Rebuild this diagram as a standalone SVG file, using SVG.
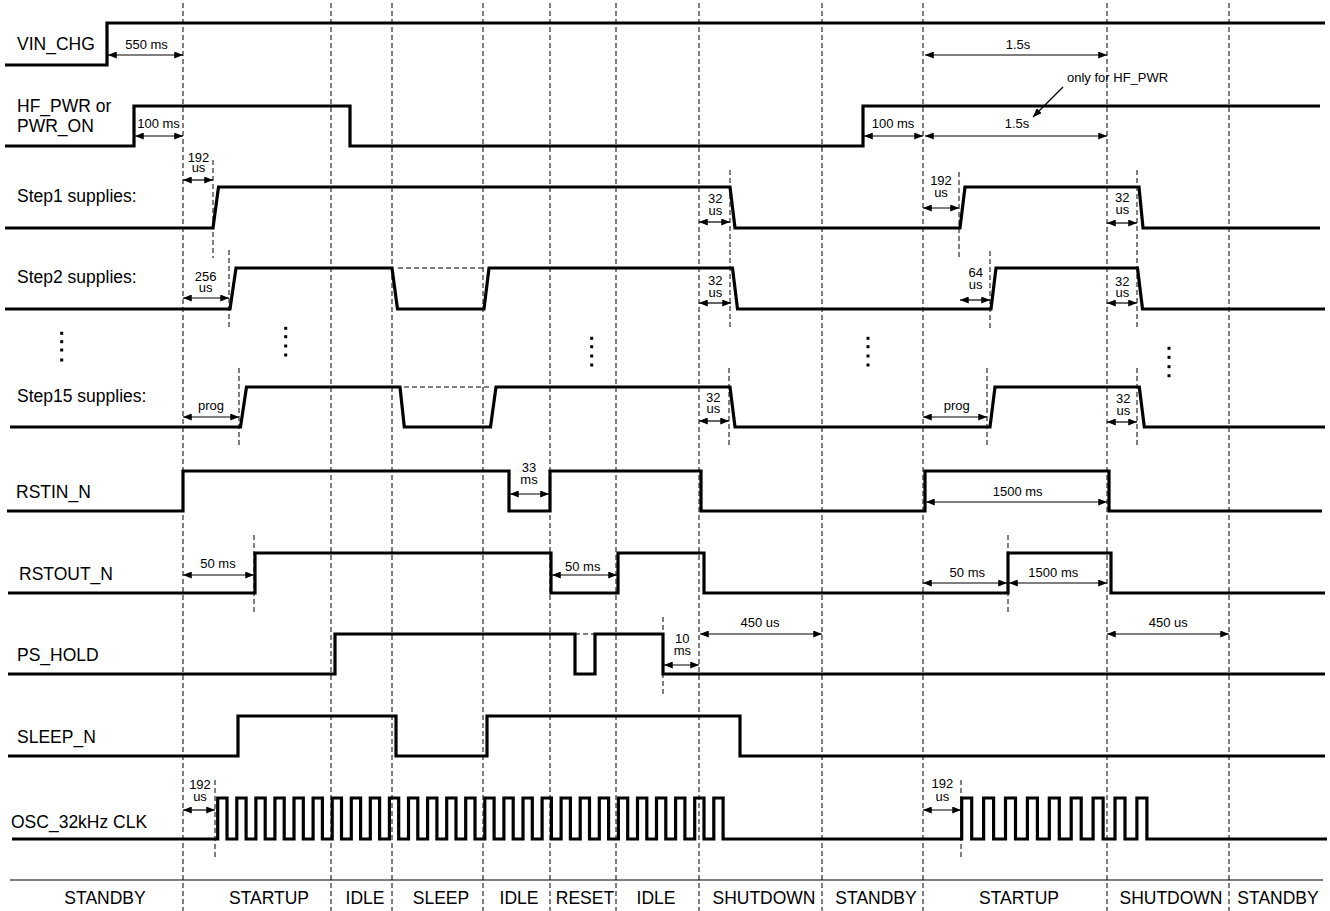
<svg xmlns="http://www.w3.org/2000/svg" width="1330" height="911" viewBox="0 0 1330 911">
<defs>
<marker id="ah" viewBox="0 0 10 8" refX="10" refY="4" markerWidth="10" markerHeight="7" markerUnits="userSpaceOnUse" orient="auto-start-reverse"><path d="M0,0 L10,4 L0,8 z" fill="#000"/></marker>
<style>
.sig{fill:none;stroke:#000;stroke-width:3.2;stroke-linejoin:miter;stroke-linecap:butt}
.grid{fill:none;stroke:#000;stroke-width:1;stroke-dasharray:5 3}
.lbl{font-family:"Liberation Sans",Arial,sans-serif;font-size:17.5px;fill:#000}
.ph{font-family:"Liberation Sans",Arial,sans-serif;font-size:17.5px;fill:#000;text-anchor:middle}
.ann{font-family:"Liberation Sans",Arial,sans-serif;font-size:13px;fill:#000;text-anchor:middle}
.dim{fill:none;stroke:#000;stroke-width:1.2;marker-start:url(#ah);marker-end:url(#ah)}
.dim1{fill:none;stroke:#000;stroke-width:1.2;marker-end:url(#ah)}
.dot{fill:#000}
</style>
</defs>
<rect width="1330" height="911" fill="#fff"/>

<g id="phase-grid">
<path class="grid" d="M183,3V911M331,3V911M392,3V911M483,3V911M550,3V911M616,3V911M699,3V911M822,3V911M923,3V911M1107,3V911M1229,3V911"/>
<path d="M10,880H1323" stroke="#000" stroke-width="1.2"/>
</g>

<g id="markers">
<path class="grid" d="M213,160V258M229,250V329M239,368V447M730,170V330M729,368V447M254,535V613M663,617V695M215,780V860M959,172V258M990,251V330M1137,170V330M987,368V447M1137,368V447M1008,535V613M961,780V860"/>
<path class="grid" d="M398,268H483M404,387H490M575,634H595"/>
</g>

<g id="VIN_CHG">
<text class="lbl" x="17" y="50">VIN_CHG</text>
<path class="sig" d="M5,65H107V23H1325"/>
</g>

<g id="HF_PWR">
<text class="lbl" x="17" y="112">HF_PWR or<tspan x="17" dy="20">PWR_ON</tspan></text>
<path class="sig" d="M5,146H134V106H350V146H863V106H1320"/>
</g>

<g id="Step1">
<text class="lbl" x="17" y="202">Step1 supplies:</text>
<path class="sig" d="M5,228H213L218.5,187H730L735,228H960L965,187H1139L1143,228H1320"/>
</g>

<g id="Step2">
<text class="lbl" x="17" y="283">Step2 supplies:</text>
<path class="sig" d="M5,309H230L236,268H392L397.5,309H484L489,268H732.5L737.5,309H991L996,268H1137.5L1142.5,309H1325"/>
</g>

<g id="dots">
<rect class="dot" x="60.2" y="331.8" width="3" height="3"/><rect class="dot" x="60.2" y="340.2" width="3" height="3"/><rect class="dot" x="60.2" y="348.5" width="3" height="3"/><rect class="dot" x="60.2" y="358.5" width="3" height="3"/>
<rect class="dot" x="284.2" y="326.8" width="3" height="3"/><rect class="dot" x="284.2" y="335.2" width="3" height="3"/><rect class="dot" x="284.2" y="344.5" width="3" height="3"/><rect class="dot" x="284.2" y="353.5" width="3" height="3"/>
<rect class="dot" x="590.2" y="336.8" width="3" height="3"/><rect class="dot" x="590.2" y="345.2" width="3" height="3"/><rect class="dot" x="590.2" y="354.5" width="3" height="3"/><rect class="dot" x="590.2" y="363.5" width="3" height="3"/>
<rect class="dot" x="866.5" y="336.8" width="3" height="3"/><rect class="dot" x="866.5" y="345.2" width="3" height="3"/><rect class="dot" x="866.5" y="354.5" width="3" height="3"/><rect class="dot" x="866.5" y="363.5" width="3" height="3"/>
<rect class="dot" x="1167.5" y="346.8" width="3" height="3"/><rect class="dot" x="1167.5" y="355.8" width="3" height="3"/><rect class="dot" x="1167.5" y="365.2" width="3" height="3"/><rect class="dot" x="1167.5" y="374.2" width="3" height="3"/>
</g>

<g id="Step15">
<text class="lbl" x="17" y="402">Step15 supplies:</text>
<path class="sig" d="M10,427H240.5L246.5,387H400L404.3,427H490.5L496,387H730L735,427H990L995,387H1139.3L1144.3,427H1325"/>
</g>

<g id="RSTIN_N">
<text class="lbl" x="16" y="498">RSTIN_N</text>
<path class="sig" d="M7,511H183V471H509V511H550V471H701V511H925V471H1109V511H1322"/>
</g>

<g id="RSTOUT_N">
<text class="lbl" x="19" y="580">RSTOUT_N</text>
<path class="sig" d="M8,593H255V553H551V593H618V553H704V593H1008V553H1111V593H1325"/>
</g>

<g id="PS_HOLD">
<text class="lbl" x="17" y="661">PS_HOLD</text>
<path class="sig" d="M8,674H335V634H575V674H595V634H663V674H1325"/>
</g>

<g id="SLEEP_N">
<text class="lbl" x="17" y="743">SLEEP_N</text>
<path class="sig" d="M8,756H238V716H396V756H487V716H740V756H1325"/>
</g>

<g id="OSC_32kHz_CLK">
<text class="lbl" x="11" y="828">OSC_32kHz CLK</text>
<path class="sig" d="M12,839H217.7V798h9.3V839H236.8V798h9.3V839H255.9V798h9.3V839H274.9V798h9.3V839H294.0V798h9.3V839H313.1V798h9.3V839H332.2V798h9.3V839H351.3V798h9.3V839H370.3V798h9.3V839H389.4V798h9.3V839H408.5V798h9.3V839H427.6V798h9.3V839H446.7V798h9.3V839H465.7V798h9.3V839H484.8V798h9.3V839H503.9V798h9.3V839H523.0V798h9.3V839H542.1V798h9.3V839H561.1V798h9.3V839H580.2V798h9.3V839H599.3V798h9.3V839H618.4V798h9.3V839H637.5V798h9.3V839H656.5V798h9.3V839H675.6V798h9.3V839H694.7V798h9.3V839H713.8V798h9.3V839H961.7V798h10V839H983.6V798h10V839H1005.5V798h10V839H1027.4V798h10V839H1049.3V798h10V839H1071.2V798h10V839H1093.1V798h10V839H1115.0V798h10V839H1136.9V798h10V839H1327"/>
</g>

<g id="phases">
<text class="ph" x="105" y="904">STANDBY</text>
<text class="ph" x="269" y="904">STARTUP</text>
<text class="ph" x="365" y="904">IDLE</text>
<text class="ph" x="441" y="904">SLEEP</text>
<text class="ph" x="519" y="904">IDLE</text>
<text class="ph" x="585" y="904">RESET</text>
<text class="ph" x="656" y="904">IDLE</text>
<text class="ph" x="764" y="904">SHUTDOWN</text>
<text class="ph" x="876" y="904">STANDBY</text>
<text class="ph" x="1019" y="904">STARTUP</text>
<text class="ph" x="1171" y="904">SHUTDOWN</text>
<text class="ph" x="1278" y="904">STANDBY</text>
</g>

<g id="connectors">
<path class="dim" d="M108,55H183"/>
<path class="dim" d="M135,136H183"/>
<path class="dim" d="M864,136H923"/>
<path class="dim" d="M925,55H1107"/>
<path class="dim" d="M925,136H1107"/>
<path class="dim1" d="M1063,87L1033,117"/>
<path class="dim" d="M183,180H213"/>
<path class="dim" d="M183,298H229"/>
<path class="dim" d="M699,222H730"/>
<path class="dim" d="M699,303H731"/>
<path class="dim" d="M699,421H729"/>
<path class="dim" d="M923,208H959"/>
<path class="dim" d="M960,300H990"/>
<path class="dim" d="M1107,223H1137"/>
<path class="dim" d="M1107,303H1137"/>
<path class="dim" d="M1107,422H1137"/>
<path class="dim" d="M183,417H239"/>
<path class="dim" d="M923,417H987"/>
<path class="dim" d="M510,494H549"/>
<path class="dim" d="M926,502H1107"/>
<path class="dim" d="M183,575H254"/>
<path class="dim" d="M552,575H617"/>
<path class="dim" d="M923,583H1007"/>
<path class="dim" d="M1009,583H1107"/>
<path class="dim" d="M664,665H699"/>
<path class="dim" d="M700,634H822"/>
<path class="dim" d="M1107,634H1229"/>
<path class="dim" d="M183,810H215"/>
<path class="dim" d="M923,810H961"/>
</g>

<g id="annotations">
<text class="ann" x="146.5" y="49">550 ms</text>
<text class="ann" x="158.5" y="128">100 ms</text>
<text class="ann" x="893" y="128">100 ms</text>
<text class="ann" x="1018" y="49">1.5s</text>
<text class="ann" x="1017" y="127.5">1.5s</text>
<text class="ann" x="1067" y="82" style="text-anchor:start">only for HF_PWR</text>
<text class="ann" x="198.5" y="161.7">192<tspan x="198.5" dy="10.5">us</tspan></text>
<text class="ann" x="205.7" y="280.5">256<tspan x="205.7" dy="11">us</tspan></text>
<text class="ann" x="715.3" y="203.3">32<tspan x="715.3" dy="11.5">us</tspan></text>
<text class="ann" x="715.3" y="285">32<tspan x="715.3" dy="11.5">us</tspan></text>
<text class="ann" x="713.3" y="401.7">32<tspan x="713.3" dy="11.5">us</tspan></text>
<text class="ann" x="941" y="185">192<tspan x="941" dy="11.5">us</tspan></text>
<text class="ann" x="975.7" y="276.7">64<tspan x="975.7" dy="12.5">us</tspan></text>
<text class="ann" x="1122.3" y="202.3">32<tspan x="1122.3" dy="11.5">us</tspan></text>
<text class="ann" x="1122.3" y="285.7">32<tspan x="1122.3" dy="11.5">us</tspan></text>
<text class="ann" x="1123.3" y="402.7">32<tspan x="1123.3" dy="11.8">us</tspan></text>
<text class="ann" x="211" y="410">prog</text>
<text class="ann" x="956.7" y="410">prog</text>
<text class="ann" x="529" y="472.3">33<tspan x="529" dy="12">ms</tspan></text>
<text class="ann" x="1017.7" y="495.7">1500 ms</text>
<text class="ann" x="218" y="568.3">50 ms</text>
<text class="ann" x="582.7" y="570.7">50 ms</text>
<text class="ann" x="967.3" y="577.3">50 ms</text>
<text class="ann" x="1053.3" y="577.3">1500 ms</text>
<text class="ann" x="682.3" y="643.3">10<tspan x="682.3" dy="11.7">ms</tspan></text>
<text class="ann" x="760" y="627.3">450 us</text>
<text class="ann" x="1168.3" y="627.3">450 us</text>
<text class="ann" x="200" y="789">192<tspan x="200" dy="12">us</tspan></text>
<text class="ann" x="942.3" y="788.3">192<tspan x="942.3" dy="12.7">us</tspan></text>
</g>
</svg>
